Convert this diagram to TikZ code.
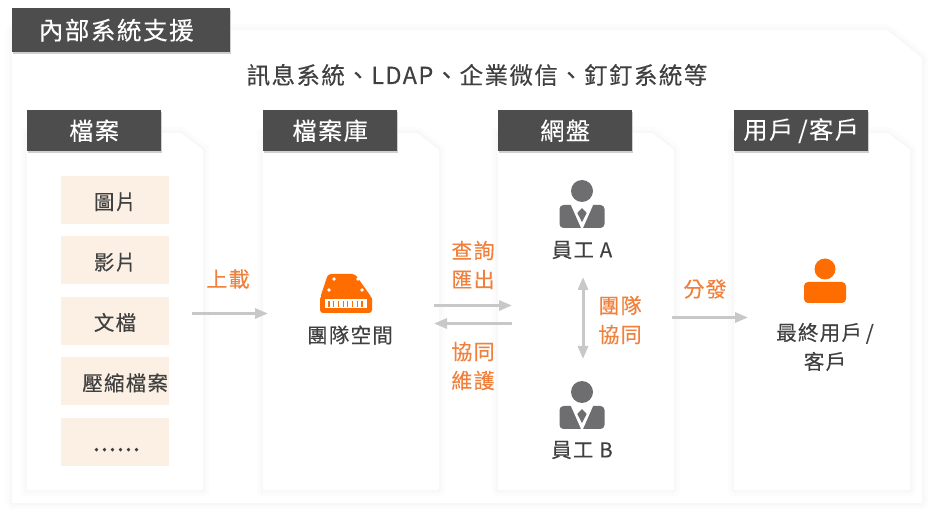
\documentclass[tikz,border=0pt]{standalone}
\usepackage{fontspec}
\setmainfont[LetterSpace=6,FakeBold=0.25]{Noto Sans CJK TC}
\usetikzlibrary{arrows.meta,positioning}
\definecolor{headgray}{HTML}{4D4D4D}
\definecolor{inkgray}{HTML}{404040}
\definecolor{itempeach}{HTML}{FCEFE3}
\definecolor{labelorange}{HTML}{F0803C}
\definecolor{iconorange}{HTML}{FF6D00}
\definecolor{icongray}{HTML}{6E6E70}
\definecolor{arrowgray}{HTML}{C8C8C8}
\definecolor{shadeouter}{HTML}{FCFCFC}
\definecolor{shadeinner}{HTML}{F8F8F8}
\definecolor{shadehead}{HTML}{CFCFCF}
\tikzset{
  panelbox/.style={
    fill=white,
    preaction={draw=shadeouter,line width=12pt,line join=round},
    preaction={draw=shadeinner,line width=5pt,line join=round}
  },
  headbox/.style={
    fill=headgray,
    text=white,
    anchor=north west,
    inner sep=0pt,
    minimum width=134pt,
    minimum height=41pt,
    preaction={fill=shadehead,transform canvas={shift={(1pt,-1.5pt)}}},
    font=\fontsize{24.2}{28}\selectfont
  },
  itembox/.style={
    fill=itempeach,
    text=inkgray,
    inner sep=0pt,
    minimum width=108pt,
    minimum height=48pt,
    text height=19pt,
    text depth=0pt,
    font=\fontsize{20.5}{24}\selectfont
  },
  iconlabel/.style={
    text=inkgray,
    inner sep=0pt,
    align=center,
    font=\fontsize{20.5}{29}\selectfont
  },
  flowlabel/.style={
    text=labelorange,
    inner sep=0pt,
    align=center,
    font=\fontsize{21}{29}\selectfont
  },
  flowarrow/.style={-{Triangle[length=13pt,width=10pt]},line width=3pt,draw=arrowgray},
  bothflow/.style={{Triangle[length=13pt,width=10pt]}-{Triangle[length=13pt,width=10pt]},line width=3pt,draw=arrowgray},
  pics/staff/.style={
    code={
      \fill[icongray] (0,-11) circle (11);
      \fill[icongray,rounded corners=4pt] (-22.5,3) rectangle (22.5,26);
      \fill[white] (-11.5,2) -- (11.5,2) -- (0.5,27) -- (-0.5,27) -- cycle;
      \fill[icongray] (0,6) -- (4.7,11) -- (0,20) -- (-4.7,11) -- cycle;
    }
  }
}
\begin{document}
\begin{tikzpicture}[x=1pt,y=-1pt,node distance=12pt]
\useasboundingbox (0,0) rectangle (932,518);
% outer panel
\path[panelbox] (12,30) -- (887,30) -- (922,58) -- (922,503) -- (12,503) -- cycle;
\node[headbox,minimum width=218pt,minimum height=44pt,font=\fontsize{24.6}{28}\selectfont] (support) at (12,8) {內部系統支援\kern10pt};
\node[text=inkgray,inner sep=0pt,font=\fontsize{23.5}{28}\selectfont] (channels) at (477,75) {訊息系統、LDAP、企業微信、釘釘系統等};
% four columns
\foreach \x in {27,263,498,734}{
  \path[panelbox] (\x,133) -- (\x+154,133) -- (\x+176,150) -- (\x+176,490) -- (\x,490) -- cycle;
}
\node[headbox] (files) at (27,110) {檔案};
\node[headbox] (library) at (263,110) {檔案庫};
\node[headbox] (netdisk) at (498,110) {網盤};
\node[headbox] (users) at (734,110) {用戶\kern-2pt{} /客戶};
% file types
\node[itembox] (image) at (115,200) {圖片};
\node[itembox,below=of image] (video) {影片};
\node[itembox,below=of video] (document) {文檔};
\node[itembox,below=of document,text width=106pt,align=right] (archive) {壓縮檔案};
\node[itembox,below=of archive] (more) {\kern3pt\fontsize{26}{26}\selectfont\addfontfeature{LetterSpace=3}......};
% team space
\fill[iconorange,rounded corners=3pt] (328,274) -- (355,274) -- (372,298) -- (320,298) -- cycle;
\fill[iconorange,rounded corners=3pt] (320,296) rectangle (372,313);
\fill[white] (325,299) rectangle (367,308);
\foreach \x in {329,333.7,...,362}{
  \fill[iconorange] (\x-0.6,301) rectangle (\x+0.6,307);
}
\foreach \x/\y in {334/279,358/279,329/290,362/290}{
  \fill[white] (\x,\y) circle (1.8);
}
\node[iconlabel] (teamspace) at (350,335) {團隊空間};
% staff
\pic at (582,202) {staff};
\node[iconlabel] (staffa) at (582,250) {員工 A};
\pic at (582,403) {staff};
\node[iconlabel] (staffb) at (582,450) {員工 B};
% end user
\fill[iconorange] (825,269) circle (10.5);
\fill[iconorange,rounded corners=4pt] (804,282) rectangle (846,303);
\node[iconlabel] (enduser) at (825,347) {最終用戶\kern-2pt{} /\\客戶};
% connectors
\coordinate (uploadin) at (192,313.5);
\coordinate (uploadout) at (268,313.5);
\coordinate (queryin) at (434,305.5);
\coordinate (queryout) at (512,305.5);
\coordinate (editin) at (512,323.5);
\coordinate (editout) at (434,323.5);
\coordinate (sharein) at (672,317.5);
\coordinate (shareout) at (748,317.5);
\coordinate (teamtop) at (583,277);
\coordinate (teambottom) at (583,359);
\draw[flowarrow] (uploadin) -- (uploadout);
\draw[flowarrow] (queryin) -- (queryout);
\draw[flowarrow] (editin) -- (editout);
\draw[flowarrow] (sharein) -- (shareout);
\draw[bothflow] (teamtop) -- (teambottom);
\node[flowlabel] (upload) at (228,279) {上載};
\node[flowlabel] (query) at (473,265) {查詢\\匯出};
\node[flowlabel] (coedit) at (473,366) {協同\\維護};
\node[flowlabel] (teamwork) at (620,320) {團隊\\協同};
\node[flowlabel] (share) at (705,289) {分發};
\end{tikzpicture}
\end{document}
